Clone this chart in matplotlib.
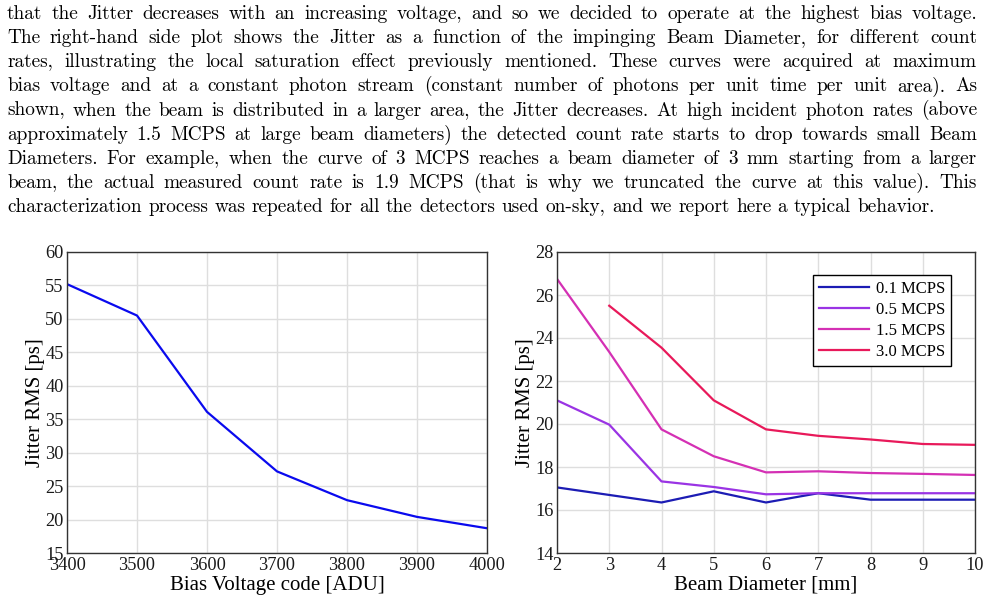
import matplotlib
matplotlib.use('Agg')
from matplotlib import pyplot as plt

# paragraph above the figures
paragraph = [
    'that the Jitter decreases with an increasing voltage, and so we decided to operate at the highest bias voltage.',
    'The right-hand side plot shows the Jitter as a function of the impinging Beam Diameter, for different count',
    'rates, illustrating the local saturation effect previously mentioned.  These curves were acquired at maximum',
    'bias voltage and at a constant photon stream (constant number of photons per unit time per unit area).  As',
    'shown, when the beam is distributed in a larger area, the Jitter decreases. At high incident photon rates (above',
    'approximately 1.5 MCPS at large beam diameters) the detected count rate starts to drop towards small Beam',
    'Diameters. For example, when the curve of 3 MCPS reaches a beam diameter of 3 mm starting from a larger',
    'beam, the actual measured count rate is 1.9 MCPS (that is why we truncated the curve at this value).  This',
    'characterization process was repeated for all the detectors used on-sky, and we report here a typical behavior.',
]

# left plot: jitter vs bias voltage
bias_code = [3400, 3500, 3600, 3700, 3800, 3900, 4000]
jitter_bias = [55.2, 50.5, 36.1, 27.2, 22.9, 20.4, 18.7]

# right plot: jitter vs beam diameter
beam_diam = [2, 3, 4, 5, 6, 7, 8, 9, 10]
jitter_01 = [17.05, 16.7, 16.35, 16.87, 16.35, 16.78, 16.48, 16.48, 16.48]
jitter_05 = [21.1, 19.97, 17.33, 17.07, 16.73, 16.78, 16.78, 16.78, 16.78]
jitter_15 = [26.75, 23.35, 19.75, 18.5, 17.75, 17.8, 17.72, 17.68, 17.63]
beam_diam_30 = [3, 4, 5, 6, 7, 8, 9, 10]
jitter_30 = [25.5, 23.55, 21.1, 19.75, 19.45, 19.28, 19.07, 19.03]

W, H = 990, 602
fig = plt.figure(figsize=(W / 100, H / 100), dpi=100)
renderer = fig.canvas.get_renderer()

# justified text, word by word
txt_size = 13.9
left_px, right_px = 7, 977
space_px = txt_size * 100 / 72 * 0.333
for i, line in enumerate(paragraph):
    words = line.split()
    y = 1 - (19.3 + i * 24.05) / H
    ts = [fig.text(0, y, w, fontsize=txt_size, family='cmr10', va='baseline') for w in words]
    widths = [t.get_window_extent(renderer).width for t in ts]
    if i == len(paragraph) - 1:
        gap = space_px
    else:
        gap = (right_px - left_px - sum(widths)) / (len(words) - 1)
    x = left_px
    for t, w in zip(ts, widths):
        t.set_x(x / W)
        x += w + gap

plt.rcParams['font.family'] = ['Liberation Serif', 'DejaVu Serif']


def style_axes(ax):
    ax.grid(True, color='#dedede', linewidth=1.0)
    ax.set_axisbelow(True)
    for s in ax.spines.values():
        s.set_color('#333333')
        s.set_linewidth(1.0)
    ax.tick_params(length=0, labelsize=13.2, colors='#1a1a1a')
    ax.tick_params(axis='x', pad=3)
    ax.tick_params(axis='y', pad=2.5)


ax1 = fig.add_axes([67 / W, 1 - 553 / H, 420 / W, 301 / H])
ax1.plot(bias_code, jitter_bias, color='#0a0aee', linewidth=1.6)
ax1.set_xlim(3400, 4000)
ax1.set_ylim(15, 60)
ax1.set_xticks(bias_code)
ax1.set_yticks(range(15, 61, 5))
ax1.set_xlabel('Bias Voltage code [ADU]', fontsize=15, labelpad=1)
ax1.set_ylabel('Jitter RMS [ps]', fontsize=15, labelpad=0)
style_axes(ax1)

ax2 = fig.add_axes([557 / W, 1 - 553 / H, 418 / W, 301 / H])
ax2.plot(beam_diam, jitter_01, color='#1c1cb4', linewidth=1.6, label='0.1 MCPS')
ax2.plot(beam_diam, jitter_05, color='#9a34e4', linewidth=1.6, label='0.5 MCPS')
ax2.plot(beam_diam, jitter_15, color='#d430b4', linewidth=1.6, label='1.5 MCPS')
ax2.plot(beam_diam_30, jitter_30, color='#e8195a', linewidth=1.6, label='3.0 MCPS')
ax2.set_xlim(2, 10)
ax2.set_ylim(14, 28)
ax2.set_xticks(beam_diam)
ax2.set_yticks(range(14, 29, 2))
ax2.set_xlabel('Beam Diameter [mm]', fontsize=15, labelpad=1)
ax2.set_ylabel('Jitter RMS [ps]', fontsize=15, labelpad=0)
style_axes(ax2)
leg = ax2.legend(loc='upper right', bbox_to_anchor=(0.9426, 0.9236), borderaxespad=0,
                 fontsize=12, fancybox=False, framealpha=1, edgecolor='black',
                 handlelength=3.0, handletextpad=0.4, labelspacing=0.3, borderpad=0.35)
leg.get_frame().set_linewidth(1.0)

fig.savefig('out.png', dpi=100)
